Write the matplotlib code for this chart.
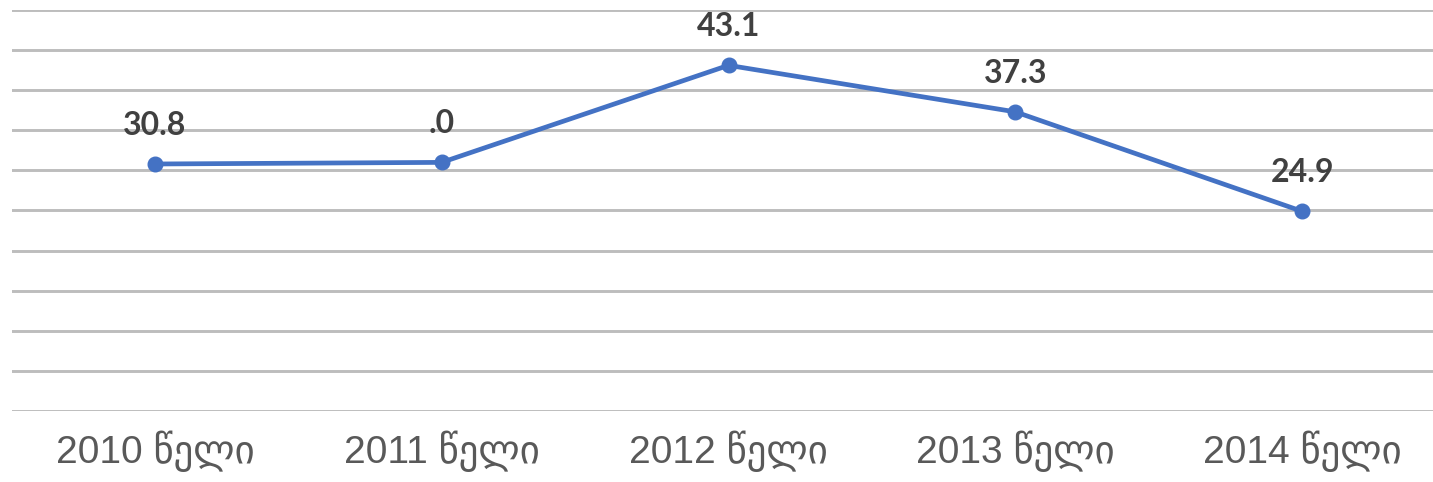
import matplotlib.pyplot as plt
import numpy as np

# data
years = ['2010 წელი', '2011 წელი', '2012 წელი', '2013 წელი', '2014 წელი']
values = [30.8, 31.0, 43.1, 37.3, 24.9]
value_labels = ['30.8', '.0', '43.1', '37.3', '24.9']

LINE_COLOR = '#4472C4'
GRID_COLOR = '#bdbdbd'
LABEL_COLOR = '#404040'
TICK_COLOR = '#595959'

fig = plt.figure(figsize=(14.33, 4.82), dpi=100)
ax = fig.add_axes([11.5 / 1433, 71 / 482, 1434 / 1433, 401 / 482])

x = np.arange(len(years))
ax.plot(x, values, color=LINE_COLOR, lw=3.4, marker='o', ms=10.5,
        solid_capstyle='round', zorder=3)

for xi, v, lab in zip(x, values, value_labels):
    ax.annotate(lab, (xi, v), xytext=(0, 21), textcoords='offset points',
                ha='center', va='baseline', fontsize=23, fontweight='bold',
                color=LABEL_COLOR, family=['Lato', 'DejaVu Sans'])

ax.set_xlim(-0.5, len(years) - 0.5)
ax.set_ylim(0, 50)
ax.set_yticks(np.arange(0, 51, 5))
ax.set_yticklabels([])
ax.grid(axis='y', color=GRID_COLOR, lw=2.1)
ax.set_axisbelow(True)

ax.set_xticks(x)
ax.set_xticklabels(years, fontsize=28, color=TICK_COLOR,
                   family=['Liberation Sans', 'DejaVu Sans'])
ax.tick_params(axis='both', length=0)
ax.tick_params(axis='x', pad=14)

for s in ax.spines.values():
    s.set_visible(False)

fig.savefig('out.png', dpi=100)
